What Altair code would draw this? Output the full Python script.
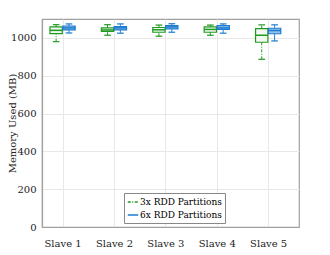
import altair as alt
import pandas as pd

slaves = ["Slave 1", "Slave 2", "Slave 3", "Slave 4", "Slave 5"]
series_names = ["3x RDD Partitions", "6x RDD Partitions"]

g_low = [980, 1014, 1009, 1014, 887]
g_q1 = [1023, 1035, 1030, 1030, 977]
g_med = [1040, 1042, 1043, 1045, 1014]
g_q3 = [1058, 1053, 1055, 1058, 1049]
g_high = [1070, 1070, 1068, 1068, 1069]

b_low = [1026, 1025, 1030, 1025, 984]
b_q1 = [1042, 1042, 1048, 1045, 1022]
b_med = [1053, 1053, 1058, 1053, 1039]
b_q3 = [1063, 1060, 1065, 1065, 1051]
b_high = [1074, 1074, 1075, 1074, 1069]

GREEN = "#1f9a1f"
BLUE = "#1c7ad0"

rows = []
for i, s in enumerate(slaves):
    for name, off, lo, q1, md, q3, hi in [
        (series_names[0], -0.125, g_low, g_q1, g_med, g_q3, g_high),
        (series_names[1], 0.125, b_low, b_q1, b_med, b_q3, b_high),
    ]:
        c = i + 1 + off
        rows.append(dict(series=name, slave=s, c=c, l=c - 0.12, r=c + 0.12,
                         cl=c - 0.065, cr=c + 0.065,
                         low=lo[i], q1=q1[i], med=md[i], q3=q3[i], high=hi[i]))
df = pd.DataFrame(rows)

FONT = "DejaVu Serif"
xscale = alt.Scale(domain=[0.6, 5.6], nice=False, zero=False)
yscale = alt.Scale(domain=[0, 1100], nice=False)
color_scale = alt.Scale(domain=series_names, range=[GREEN, BLUE])
fill_scale = alt.Scale(domain=series_names, range=["#f1f9f1", "#93c3ec"])
dash_scale = alt.Scale(domain=series_names, range=[[3, 1.5, 1, 1.5], [1, 0]])

xaxis = alt.Axis(values=[1, 2, 3, 4, 5], title=None,
                 labelExpr="'Slave ' + datum.value", grid=True, ticks=False,
                 labelPadding=11, labelFont=FONT)
yaxis = alt.Axis(values=[0, 200, 400, 600, 800, 1000], title="Memory Used (MB)",
                 format="d", grid=True, ticks=False, labelPadding=6,
                 titleX=-30, titleY=104, titleAlign="center", titleBaseline="middle",
                 labelFont=FONT, titleFont=FONT)

base = alt.Chart(df)

whisk_lo = base.mark_rule(strokeWidth=1).encode(
    x=alt.X("c:Q", scale=xscale, axis=xaxis),
    y=alt.Y("low:Q", scale=yscale, axis=yaxis),
    y2="q1:Q",
    color=alt.Color("series:N", scale=color_scale,
                    legend=alt.Legend(title=None, orient="none", legendX=82, legendY=174,
                                      symbolType="stroke", symbolSize=110,
                                      symbolStrokeWidth=1.5,
                                      labelFont=FONT, labelFontSize=9,
                                      fillColor="white", strokeColor="#888888",
                                      padding=3, rowPadding=2, labelOffset=1)),
    strokeDash=alt.StrokeDash("series:N", scale=dash_scale, legend=None),
)
whisk_hi = base.mark_rule(strokeWidth=1).encode(
    x="c:Q", y="q3:Q", y2="high:Q",
    color=alt.Color("series:N", scale=color_scale, legend=None),
    strokeDash=alt.StrokeDash("series:N", scale=dash_scale, legend=None),
)
cap_lo = base.mark_rule(strokeWidth=1.2).encode(
    x="cl:Q", x2="cr:Q", y="low:Q",
    color=alt.Color("series:N", scale=color_scale, legend=None),
)
cap_hi = base.mark_rule(strokeWidth=1.2).encode(
    x="cl:Q", x2="cr:Q", y="high:Q",
    color=alt.Color("series:N", scale=color_scale, legend=None),
)
box = base.mark_rect(strokeWidth=1.2).encode(
    x="l:Q", x2="r:Q", y="q1:Q", y2="q3:Q",
    fill=alt.Fill("series:N", scale=fill_scale, legend=None),
    stroke=alt.Stroke("series:N", scale=color_scale, legend=None),
    strokeDash=alt.StrokeDash("series:N", scale=dash_scale, legend=None),
)
median = base.mark_rule(strokeWidth=1.5).encode(
    x="l:Q", x2="r:Q", y="med:Q",
    color=alt.Color("series:N", scale=color_scale, legend=None),
)

chart = alt.layer(whisk_lo, whisk_hi, cap_lo, cap_hi, box, median).properties(
    width=257, height=208,
    autosize=alt.AutoSizeParams(type="none"),
    padding={"left": 34, "top": 11, "right": 5, "bottom": 25},
).configure(font=FONT).configure_view(
    stroke="#a0a0a0", strokeWidth=1.2
).configure_axis(
    labelFont=FONT, titleFont=FONT, labelFontSize=10, titleFontSize=10,
    labelColor="#222222", titleColor="#222222", titleFontWeight="normal",
    gridColor="#e8e8e8", domainColor="#a0a0a0", domainWidth=1.2,
).configure_legend(labelFont=FONT)

chart.save("out.html", embed_options={"renderer": "svg", "actions": False})
